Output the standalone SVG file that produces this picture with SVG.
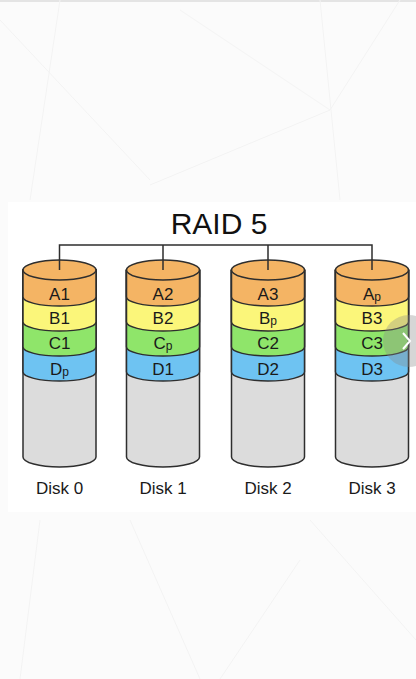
<svg xmlns="http://www.w3.org/2000/svg" xmlns:xlink="http://www.w3.org/1999/xlink" width="416" height="679" viewBox="0 0 416 679">
<style>
.ol{stroke:#2e2e2e;stroke-width:1.5;stroke-linejoin:round}
.grey{fill:#dcdcdc}
.blue{fill:#6ec3f2}
.green{fill:#8fe56a}
.yellow{fill:#fbf67a}
.orange{fill:#f4b464}
.lbl{font-family:"Liberation Sans",Arial,sans-serif;font-size:17px;fill:#1a1a1a;text-anchor:middle}
.sub{font-size:12px}
.disk{font-family:"Liberation Sans",Arial,sans-serif;font-size:17px;fill:#1a1a1a;text-anchor:middle}
.title{font-family:"Liberation Sans",Arial,sans-serif;font-size:30px;fill:#111;text-anchor:middle}
.bgl{stroke:#f3f3f3;stroke-width:1;fill:none}
.conn{stroke:#2e2e2e;stroke-width:1.5;fill:none}
</style>
<defs>
<g id="cyl">
<path class="ol grey" d="M-36.5,270 L-36.5,457 A36.5,10 0 0 0 36.5,457 L36.5,270 Z"/>
<path class="ol blue" d="M-36.5,270 L-36.5,372 A36.5,9 0 0 0 36.5,372 L36.5,270 Z"/>
<path class="ol green" d="M-36.5,270 L-36.5,347 A36.5,9 0 0 0 36.5,347 L36.5,270 Z"/>
<path class="ol yellow" d="M-36.5,270 L-36.5,322 A36.5,9 0 0 0 36.5,322 L36.5,270 Z"/>
<path class="ol orange" d="M-36.5,270 L-36.5,297 A36.5,9 0 0 0 36.5,297 L36.5,270 Z"/>
<ellipse class="ol orange" cx="0" cy="270" rx="36.5" ry="10"/>
</g>
</defs>
<rect x="0" y="0" width="416" height="679" fill="#fbfbfb"/>
<rect x="0" y="0" width="416" height="2" fill="#e4e4e4"/>
<g id="background-texture">
<path class="bgl" d="M0,20 L150,180 M60,0 L30,200 M180,10 L330,110 L400,0 M330,110 L150,185 M320,0 L340,200 M20,679 L40,520 M130,520 L200,679 M310,520 L416,640 M220,679 L300,560"/>
</g>
<rect x="8" y="202" width="408" height="310" fill="#ffffff"/>
<text class="title" x="219" y="234">RAID 5</text>
<g id="disk0">
<use xlink:href="#cyl" x="59.5"/>
<text class="lbl" x="59.5" y="300">A1</text>
<text class="lbl" x="59.5" y="324">B1</text>
<text class="lbl" x="59.5" y="349">C1</text>
<text class="lbl" x="59.5" y="375">D<tspan class="sub" dy="1">p</tspan></text>
<text class="disk" x="59.5" y="494">Disk 0</text>
</g>
<g id="disk1">
<use xlink:href="#cyl" x="163"/>
<text class="lbl" x="163" y="300">A2</text>
<text class="lbl" x="163" y="324">B2</text>
<text class="lbl" x="163" y="349">C<tspan class="sub" dy="1">p</tspan></text>
<text class="lbl" x="163" y="375">D1</text>
<text class="disk" x="163" y="494">Disk 1</text>
</g>
<g id="disk2">
<use xlink:href="#cyl" x="268"/>
<text class="lbl" x="268" y="300">A3</text>
<text class="lbl" x="268" y="324">B<tspan class="sub" dy="1">p</tspan></text>
<text class="lbl" x="268" y="349">C2</text>
<text class="lbl" x="268" y="375">D2</text>
<text class="disk" x="268" y="494">Disk 2</text>
</g>
<g id="disk3">
<use xlink:href="#cyl" x="372"/>
<text class="lbl" x="372" y="300">A<tspan class="sub" dy="1">p</tspan></text>
<text class="lbl" x="372" y="324">B3</text>
<text class="lbl" x="372" y="349">C3</text>
<text class="lbl" x="372" y="375">D3</text>
<text class="disk" x="372" y="494">Disk 3</text>
</g>
<g id="connectors">
<path class="conn" d="M59.5,270 L59.5,245 L372,245 L372,270 M163,245 L163,270 M268,245 L268,270"/>
</g>
<g id="nav-button">
<circle cx="409" cy="341" r="26" fill="#8a8a8a" fill-opacity="0.35"/>
<path d="M403,333 L410,341 L403,349" fill="none" stroke="#ffffff" stroke-width="2"/>
</g>
</svg>
